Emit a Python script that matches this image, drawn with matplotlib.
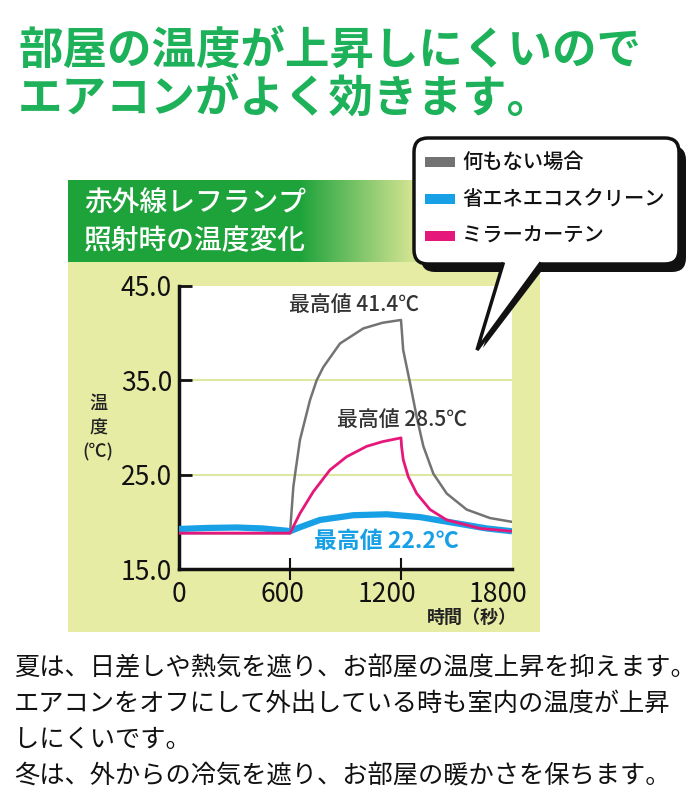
import numpy as np
import matplotlib
matplotlib.use("Agg")
import matplotlib.pyplot as plt
import matplotlib.transforms as mtransforms
from matplotlib.patches import FancyBboxPatch, Polygon, Rectangle
from matplotlib.colors import to_rgb

plt.rcParams['font.family'] = ['Noto Sans CJK JP', 'DejaVu Sans']

# data
t_gray = [0, 300, 600, 618, 627, 654, 708, 744, 780, 870, 996, 1100, 1200,
          1212, 1249, 1285, 1321, 1375, 1447, 1555, 1681, 1800]
temp_gray = [18.8, 18.8, 18.8, 23.7, 25.0, 28.7, 32.9, 35.0, 36.4, 38.9, 40.5, 41.1, 41.4,
             38.2, 34.7, 31.1, 28.0, 25.1, 23.0, 21.3, 20.4, 20.0]

t_pink = [0, 300, 600, 654, 726, 816, 906, 1014, 1100, 1200,
          1203, 1212, 1239, 1285, 1357, 1447, 1627, 1800]
temp_pink = [18.8, 18.8, 18.8, 20.9, 23.2, 25.5, 26.9, 28.0, 28.5, 28.9,
             28.0, 26.6, 24.8, 23.0, 21.3, 20.2, 19.3, 19.0]

t_blue = [0, 150, 312, 450, 582, 600, 650, 762, 942, 1123, 1303, 1483, 1663, 1800]
temp_blue = [19.24, 19.35, 19.4, 19.3, 19.06, 19.0, 19.4, 20.2, 20.7, 20.8, 20.5, 19.9, 19.3, 19.0]

legend_labels = ['何もない場合', '省エネエコスクリーン', 'ミラーカーテン']
legend_colors = ['#737373', '#18a0e6', '#e5177b']
yticks = [15, 25, 35, 45]
xticks = [0, 600, 1200, 1800]

title_lines = ['部屋の温度が上昇しにくいので', 'エアコンがよく効きます。']
body_lines = ['夏は、日差しや熱気を遮り、お部屋の温度上昇を抑えます。',
              'エアコンをオフにして外出している時も室内の温度が上昇',
              'しにくいです。',
              '冬は、外からの冷気を遮り、お部屋の暖かさを保ちます。']

W, H = 700, 800
fig = plt.figure(figsize=(7, 8), dpi=100)
fig.patch.set_facecolor('white')

# background layer in pixel coords
bg = fig.add_axes([0, 0, 1, 1], zorder=0)
bg.axis('off')

green = '#1db15a'
for i, line in enumerate(title_lines):
    bg.text(18, 52 + i * 48, line, fontsize=32, fontweight='bold', color=green,
            va='center', ha='left')

# panel
bg.add_patch(Rectangle((68, 180), 472, 452, facecolor='#e6eca4', edgecolor='none', zorder=1))
c1 = np.array(to_rgb('#1ea33b'))
c2 = np.array(to_rgb('#cfe290'))
xs = np.linspace(68, 540, 400)
f = np.clip((xs - 300) / 110, 0, 1)[:, None]
grad = (c1 * (1 - f) + c2 * f)[None, :, :]
bg.imshow(grad, extent=[68, 540, 262, 180], aspect='auto', interpolation='bilinear', zorder=2)
bg.set_xlim(0, W)
bg.set_ylim(H, 0)
bg.text(84, 203, '赤外線レフランプ', fontsize=20, fontweight='medium', color='white',
        va='center', ha='left', zorder=3)
bg.text(84, 241, '照射時の温度変化', fontsize=20, fontweight='medium', color='white',
        va='center', ha='left', zorder=3)

# axis labels in pixel coords
for txt, yy in [('温', 404), ('度', 428), ('(℃)', 452)]:
    bg.text(98, yy, txt, fontsize=13, fontweight='medium', va='center', ha='center',
            color='#222222', zorder=3)
bg.text(517, 617, '時間（秒）', fontsize=13, fontweight='bold', va='center', ha='right',
        color='#222222', zorder=3)

for i, line in enumerate(body_lines):
    bg.text(14, 668 + i * 36, line, fontsize=18.2, color='#111111', va='center', ha='left')

# chart
L, R, T, B = 179, 512, 286, 569
ax = fig.add_axes([L / W, 1 - B / H, (R - L) / W, (B - T) / H], zorder=2)
ax.set_facecolor('white')
ax.set_xlim(0, 1800)
ax.set_ylim(15, 45)
for y in [25, 35]:
    ax.axhline(y, color='#dfe8a2', lw=1.5, zorder=1)
ax.plot(t_gray, temp_gray, color=legend_colors[0], lw=1.8, zorder=3)
ax.plot(t_blue, temp_blue, color=legend_colors[1], lw=4.5, zorder=4, solid_capstyle='butt')
ax.plot(t_pink, temp_pink, color=legend_colors[2], lw=2, zorder=5)

for s in ['top', 'right']:
    ax.spines[s].set_visible(False)
for s in ['left', 'bottom']:
    ax.spines[s].set_linewidth(2.5)
    ax.spines[s].set_color('#111111')

ax.set_yticks(yticks)
ax.set_yticklabels(['%.1f' % v for v in yticks])
ax.set_xticks(xticks)
ax.set_xticklabels([str(v) for v in xticks])
ax.tick_params(axis='y', direction='in', length=9, width=2, pad=5, labelsize=19, colors='#111111')
ax.tick_params(axis='x', direction='inout', length=16, width=1.5, pad=1, labelsize=19, colors='#111111')
xt = ax.xaxis.get_major_ticks()
xt[0].tick1line.set_visible(False)
xt[-1].tick1line.set_visible(False)
# reference labels sit a little left of their ticks
for lab, dx in zip(ax.get_xticklabels(), [0, -8, -14, -14]):
    lab.set_transform(lab.get_transform() + mtransforms.ScaledTranslation(dx / 100, 0, fig.dpi_scale_trans))

ax.text(945, 43.0, '最高値 41.4℃', fontsize=15, fontweight='medium', color='#333333',
        ha='center', va='center', zorder=6)
ax.text(1205, 30.8, '最高値 28.5℃', fontsize=15, fontweight='medium', color='#333333',
        ha='center', va='center', zorder=6)
ax.text(1120, 17.9, '最高値 22.2℃', fontsize=16.5, fontweight='bold', color='#18a0e6',
        ha='center', va='center', zorder=6)

# speech bubble legend on top
ov = fig.add_axes([0, 0, 1, 1], zorder=5)
ov.set_xlim(0, W)
ov.set_ylim(H, 0)
ov.axis('off')
ov.patch.set_alpha(0)

bx0, by0, bx1, by1 = 414, 138, 679, 264
sx, sy = 7, 8
tail = [(503, by1 - 2), (477, 350), (540, by1 - 2)]
ov.add_patch(FancyBboxPatch((bx0 + sx, by0 + sy), bx1 - bx0, by1 - by0,
                            boxstyle='round,pad=0,rounding_size=14', facecolor='#111111',
                            edgecolor='none'))
ov.add_patch(Polygon([(503 + sx, by1), (477 + 6, 350 - 2), (540 + sx, by1)],
                     closed=True, facecolor='#111111', edgecolor='none'))
ov.add_patch(FancyBboxPatch((bx0, by0), bx1 - bx0, by1 - by0,
                            boxstyle='round,pad=0,rounding_size=14', facecolor='white',
                            edgecolor='#111111', lw=2.5))
ov.add_patch(Polygon(tail, closed=True, facecolor='white', edgecolor='none'))
ov.plot([tail[0][0], tail[1][0], tail[2][0]], [tail[0][1] + 2, tail[1][1], tail[2][1] + 2],
        color='#111111', lw=2.5, solid_joinstyle='miter')

for i, (lab, col) in enumerate(zip(legend_labels, legend_colors)):
    yy = 162 + i * 37
    ov.add_patch(Rectangle((425, yy - 5), 30, 10, facecolor=col, edgecolor='none'))
    ov.text(462, yy, lab, fontsize=14.6, fontweight='medium', color='#111111', va='center', ha='left')

fig.savefig('out.png', dpi=100)
